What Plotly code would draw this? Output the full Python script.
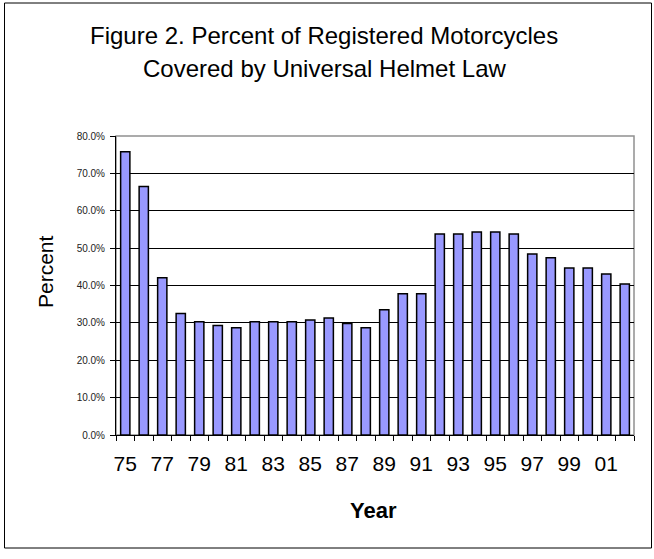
import plotly.graph_objects as go

years = ["75", "76", "77", "78", "79", "80", "81", "82", "83", "84", "85", "86", "87", "88",
         "89", "90", "91", "92", "93", "94", "95", "96", "97", "98", "99", "00", "01", "02"]
percent = [75.8, 66.5, 42.1, 32.5, 30.3, 29.3, 28.7, 30.3, 30.3, 30.3, 30.8, 31.3, 29.8, 28.7,
           33.5, 37.8, 37.8, 53.8, 53.8, 54.3, 54.3, 53.8, 48.4, 47.4, 44.7, 44.7, 43.1, 40.4]
y_ticks = [0, 10, 20, 30, 40, 50, 60, 70, 80]
y_labels = [f"{v:.1f}%" for v in y_ticks]
x_labels = [y if i % 2 == 0 and y != "02" else "" for i, y in enumerate(years)]

W, H = 654, 559
L, R, T, B = 116, 20, 136, 124
pw, ph = W - L - R, H - T - B

def px_x(p):
    return (p - L) / pw

def px_y(p):
    return (H - B - p) / ph

fig = go.Figure(go.Bar(
    x=years, y=percent,
    marker=dict(color="#9999FF", line=dict(color="black", width=1.5)),
))

fig.update_layout(
    width=W, height=H,
    margin=dict(l=L, r=R, t=T, b=B),
    paper_bgcolor="white", plot_bgcolor="white",
    font=dict(family="Liberation Sans, Arial, sans-serif", color="black"),
    bargap=0.5,
    showlegend=False,
    xaxis=dict(
        type="category", tickvals=years, ticktext=x_labels, tickangle=0,
        tickson="boundaries", ticks="outside", ticklen=5, tickcolor="black", tickwidth=1,
        ticklabelstandoff=10,
        showline=True, linecolor="black", linewidth=1,
        tickfont=dict(size=21, color="black"), showgrid=False,
    ),
    yaxis=dict(
        range=[0, 80], tickvals=y_ticks, ticktext=y_labels,
        ticks="outside", ticklen=5, tickcolor="black", ticklabelstandoff=3,
        showline=True, linecolor="black", linewidth=1,
        showgrid=True, gridcolor="black", gridwidth=1,
        tickfont=dict(size=10, color="#222"), zeroline=False,
    ),
    shapes=[
        dict(type="rect", xref="paper", yref="paper", x0=0, x1=1, y0=0, y1=1,
             line=dict(color="#909090", width=1.5), layer="below"),
        dict(type="rect", xref="paper", yref="paper", x0=px_x(4.5), x1=px_x(651.5),
             y0=px_y(548), y1=px_y(3), line=dict(color="black", width=1)),
    ],
    annotations=[
        dict(text="Figure 2. Percent of Registered Motorcycles", xref="paper", yref="paper",
             x=px_x(324), y=px_y(35), xanchor="center", yanchor="middle", showarrow=False,
             font=dict(size=24)),
        dict(text="Covered by Universal Helmet Law", xref="paper", yref="paper",
             x=px_x(324), y=px_y(69), xanchor="center", yanchor="middle", showarrow=False,
             font=dict(size=24)),
        dict(text="Percent", xref="paper", yref="paper", textangle=-90,
             x=px_x(45), y=px_y(272), xanchor="center", yanchor="middle", showarrow=False,
             font=dict(size=21)),
        dict(text="<b>Year</b>", xref="paper", yref="paper",
             x=px_x(373), y=px_y(510), xanchor="center", yanchor="middle", showarrow=False,
             font=dict(size=22)),
    ],
)

fig.write_html("out.html", config={"displayModeBar": False},
               post_script="document.body.style.margin='0px';")
